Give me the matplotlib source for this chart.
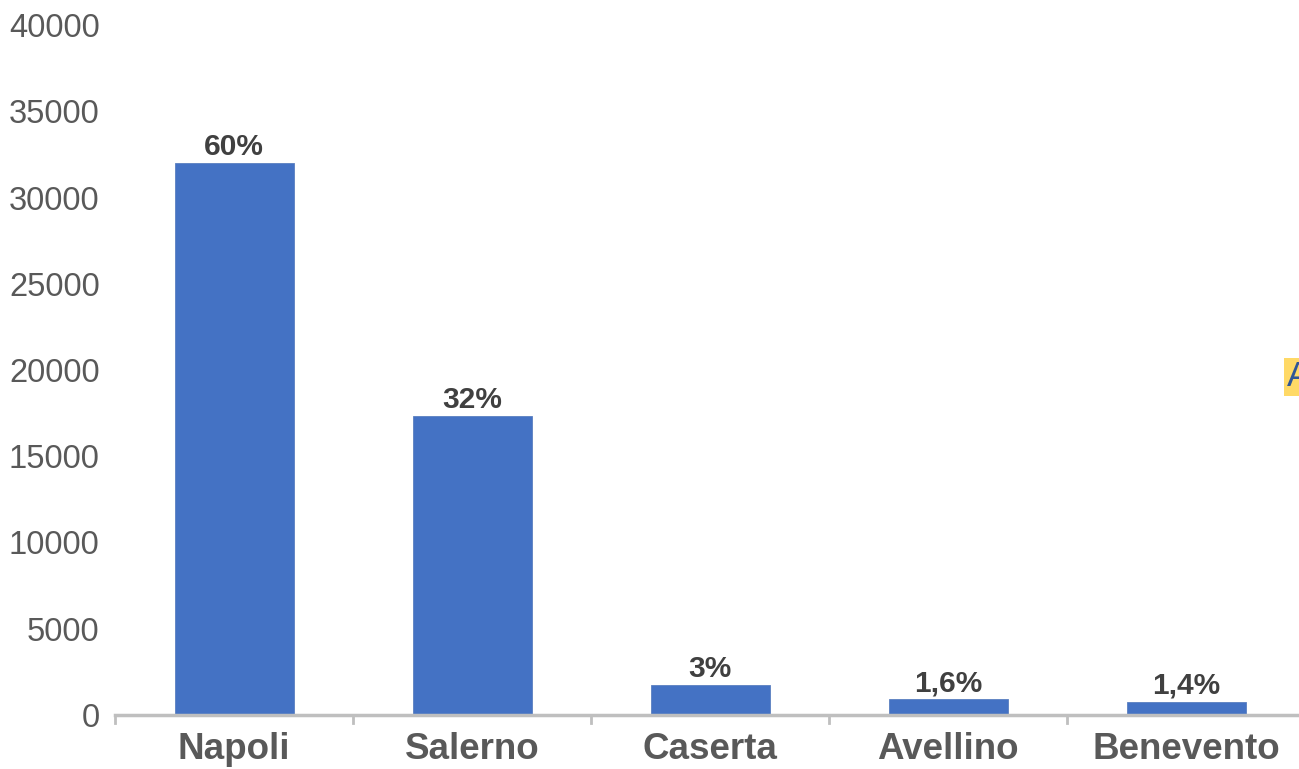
import matplotlib
matplotlib.use("Agg")
import matplotlib.pyplot as plt
import numpy as np

categories = ["Napoli", "Salerno", "Caserta", "Avellino", "Benevento"]
values = [32000, 17350, 1750, 920, 760]
pct_labels = ["60%", "32%", "3%", "1,6%", "1,4%"]
yticks = [0, 5000, 10000, 15000, 20000, 25000, 30000, 35000, 40000]

plt.rcParams['font.family'] = ['Liberation Sans', 'DejaVu Sans']

fig = plt.figure(figsize=(12.99, 7.69), dpi=100)
ax = fig.add_axes([115/1299, 1-715/769, 1190/1299, (715-25)/769])

x = np.arange(len(categories))
bars = ax.bar(x, values, width=0.5, color="#4472C4", edgecolor="#5a7fc0", linewidth=0.6, zorder=2)

for xi, v, lab in zip(x, values, pct_labels):
    ax.annotate(lab, (xi, v), xytext=(0, 1.5), textcoords="offset points",
                ha="center", va="bottom", fontsize=21.5, fontweight="bold", color="#404040")

ax.set_xlim(-0.5, len(categories) - 0.5)
ax.set_ylim(0, 40000)
ax.set_yticks(yticks)
ax.set_yticklabels([str(t) for t in yticks], fontsize=23.5, color="#595959")
ax.tick_params(axis="y", length=0, pad=11)

ax.set_xticks(x)
ax.set_xticklabels(categories, fontsize=26.5, fontweight="bold", color="#595959")
ax.tick_params(axis="x", length=0, pad=12)
for b in np.arange(len(categories) + 1) - 0.5:
    ax.plot([b, b], [0, -0.012], transform=ax.get_xaxis_transform(), color="#BFBFBF",
            lw=2, clip_on=False, zorder=3)

for s in ["top", "right", "left"]:
    ax.spines[s].set_visible(False)
ax.spines["bottom"].set_color("#BFBFBF")
ax.spines["bottom"].set_linewidth(2.5)

fig.text(1287/1299, 1-377/769, "A", fontsize=25, color="#2F5597", ha="left", va="center",
         bbox=dict(facecolor="#FFD966", edgecolor="none", pad=2))

fig.savefig("out.png", dpi=100)
